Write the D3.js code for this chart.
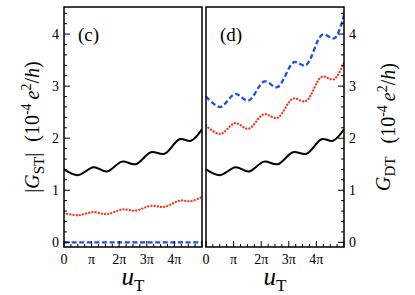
<!DOCTYPE html>
<html>
<head>
<meta charset="utf-8">
<script src="https://cdn.jsdelivr.net/npm/d3@7"></script>
<style>
  body { margin: 0; background: #fff; }
  svg text { font-family: "Liberation Serif", "DejaVu Serif", serif; fill: #000; }
</style>
</head>
<body>
<div id="chart"></div>
<script>
// u_T in units of pi
var uBlack = [0, 0.5, 1.07, 1.56, 2.1, 2.6, 3.15, 3.64, 4.19, 4.6, 5];
var gBlack = [1.40, 1.29, 1.44, 1.36, 1.55, 1.50, 1.73, 1.70, 1.98, 1.95, 2.17];

var uRedST = [0, 0.5, 1.07, 1.56, 2.1, 2.6, 3.15, 3.64, 4.19, 4.6, 5];
var gRedST = [0.56, 0.52, 0.58, 0.54, 0.63, 0.61, 0.70, 0.68, 0.80, 0.79, 0.87];

var uBlueST = [0, 5];
var gBlueST = [0, 0];

var uRedDT = [0, 0.51, 1.06, 1.53, 2.1, 2.58, 3.15, 3.61, 4.2, 4.63, 5];
var gRedDT = [2.24, 2.08, 2.29, 2.18, 2.46, 2.39, 2.76, 2.71, 3.18, 3.13, 3.45];

var uBlueDT = [0, 0.51, 1.06, 1.53, 2.12, 2.58, 3.19, 3.61, 4.22, 4.65, 5];
var gBlueDT = [2.80, 2.60, 2.85, 2.72, 3.09, 2.98, 3.46, 3.40, 3.99, 3.92, 4.37];

var xTicks = [0, 1, 2, 3, 4];
var xTickLabels = ["0", "\u03c0", "2\u03c0", "3\u03c0", "4\u03c0"];
var yTicks = [0, 1, 2, 3, 4];

var width = 415, height = 295;
var plotTop = 7, plotBottom = 247;
var red = "#f43a1c", blue = "#1f4fe6";
var panels = [
  { id: "c", left: 64, right: 202, yside: "left",
    series: [
      { u: uBlack, g: gBlack, color: "#000", dash: null },
      { u: uRedST, g: gRedST, color: red, dash: "0.1,3.1" },
      { u: uBlueST, g: gBlueST, color: blue, dash: "5,2.6" }
    ] },
  { id: "d", left: 206, right: 344, yside: "right",
    series: [
      { u: uBlack, g: gBlack, color: "#000", dash: null },
      { u: uRedDT, g: gRedDT, color: red, dash: "0.1,3.1" },
      { u: uBlueDT, g: gBlueDT, color: blue, dash: "5,2.6" }
    ] }
];

var svg = d3.select("#chart").append("svg")
  .attr("width", width)
  .attr("height", height);

var y = d3.scaleLinear().domain([-0.09, 4.52]).range([plotBottom, plotTop]);

panels.forEach(function (p) {
  var x = d3.scaleLinear().domain([0, 5]).range([p.left, p.right]);
  var g = svg.append("g");

  g.append("clipPath").attr("id", "clip-" + p.id)
    .append("rect")
    .attr("x", p.left).attr("y", plotTop)
    .attr("width", p.right - p.left).attr("height", plotBottom - plotTop);

  var line = d3.line()
    .x(function (d) { return x(d[0]); })
    .y(function (d) { return y(d[1]); })
    .curve(d3.curveCatmullRom.alpha(0.5));

  p.series.forEach(function (s) {
    var pts = s.u.map(function (u, i) { return [u, s.g[i]]; });
    g.append("path")
      .datum(pts)
      .attr("clip-path", "url(#clip-" + p.id + ")")
      .attr("d", line)
      .attr("fill", "none")
      .attr("stroke", s.color)
      .attr("stroke-width", s.dash ? 2.3 : 2)
      .attr("stroke-linecap", s.dash && s.dash.indexOf("0.1") === 0 ? "round" : "butt")
      .attr("stroke-dasharray", s.dash);
  });

  // x ticks (inward)
  var xMinor = d3.range(0, 5.01, 0.25);
  g.selectAll(".xt").data(xMinor).enter().append("line")
    .attr("x1", function (d) { return x(d); })
    .attr("x2", function (d) { return x(d); })
    .attr("y1", plotBottom)
    .attr("y2", function (d) { return Math.abs(d - Math.round(d)) < 1e-6 ? plotBottom - 6 : plotBottom - 3; })
    .attr("stroke", "#000").attr("stroke-width", 1);

  g.selectAll(".xl").data(xTicks).enter().append("text")
    .attr("x", function (d) { return x(d); })
    .attr("y", 264)
    .attr("text-anchor", "middle")
    .style("font-size", "14px")
    .text(function (d, i) { return xTickLabels[i]; });

  // y ticks
  var yx = p.yside === "left" ? p.left : p.right;
  var dir = p.yside === "left" ? 1 : -1;
  var yMinor = d3.range(0, 4.51, 0.2);
  g.selectAll(".yt").data(yMinor).enter().append("line")
    .attr("x1", yx)
    .attr("x2", function (d) { return yx + dir * (Math.abs(d - Math.round(d)) < 1e-6 ? 6 : 3); })
    .attr("y1", function (d) { return y(d); })
    .attr("y2", function (d) { return y(d); })
    .attr("stroke", "#000").attr("stroke-width", 1);

  g.selectAll(".yl").data(yTicks).enter().append("text")
    .attr("x", p.yside === "left" ? p.left - 5 : p.right + 5)
    .attr("y", function (d) { return y(d) + 4.5; })
    .attr("text-anchor", p.yside === "left" ? "end" : "start")
    .style("font-size", "14px")
    .text(function (d) { return d; });

  // frame
  g.append("rect")
    .attr("x", p.left).attr("y", plotTop)
    .attr("width", p.right - p.left).attr("height", plotBottom - plotTop)
    .attr("fill", "none").attr("stroke", "#000").attr("stroke-width", 1.5);

  // panel label
  g.append("text")
    .attr("x", p.left + 14)
    .attr("y", 41)
    .style("font-size", "19px")
    .text("(" + p.id + ")");

  // x title
  var xt = g.append("text")
    .attr("x", (p.left + p.right) / 2)
    .attr("y", 285)
    .attr("text-anchor", "middle")
    .style("font-size", "25px");
  xt.append("tspan").style("font-style", "italic").text("u");
  xt.append("tspan").attr("dy", 6).style("font-size", "17px").text("T");
});

function yTitle(xPos, name, sub, bars) {
  var t = svg.append("text")
    .attr("transform", "translate(" + xPos + ",127) rotate(-90)")
    .attr("text-anchor", "middle")
    .style("font-size", "20px");
  if (bars) t.append("tspan").text("|");
  t.append("tspan").style("font-style", "italic").text(name);
  t.append("tspan").attr("dy", 5).style("font-size", "15px").text(sub);
  t.append("tspan").attr("dy", -5).text(bars ? "|" : "");
  t.append("tspan").attr("dx", bars ? 11 : 13).text("(10");
  t.append("tspan").attr("dy", -8).style("font-size", "14px").text("-4");
  t.append("tspan").attr("dy", 8).attr("dx", 4).style("font-style", "italic").text("e");
  t.append("tspan").attr("dy", -8).style("font-size", "14px").text("2");
  t.append("tspan").attr("dy", 8).text("/");
  t.append("tspan").style("font-style", "italic").text("h");
  t.append("tspan").text(")");
}

yTitle(39, "G", "ST", true);
yTitle(390, "G", "DT", false);
</script>
</body>
</html>
